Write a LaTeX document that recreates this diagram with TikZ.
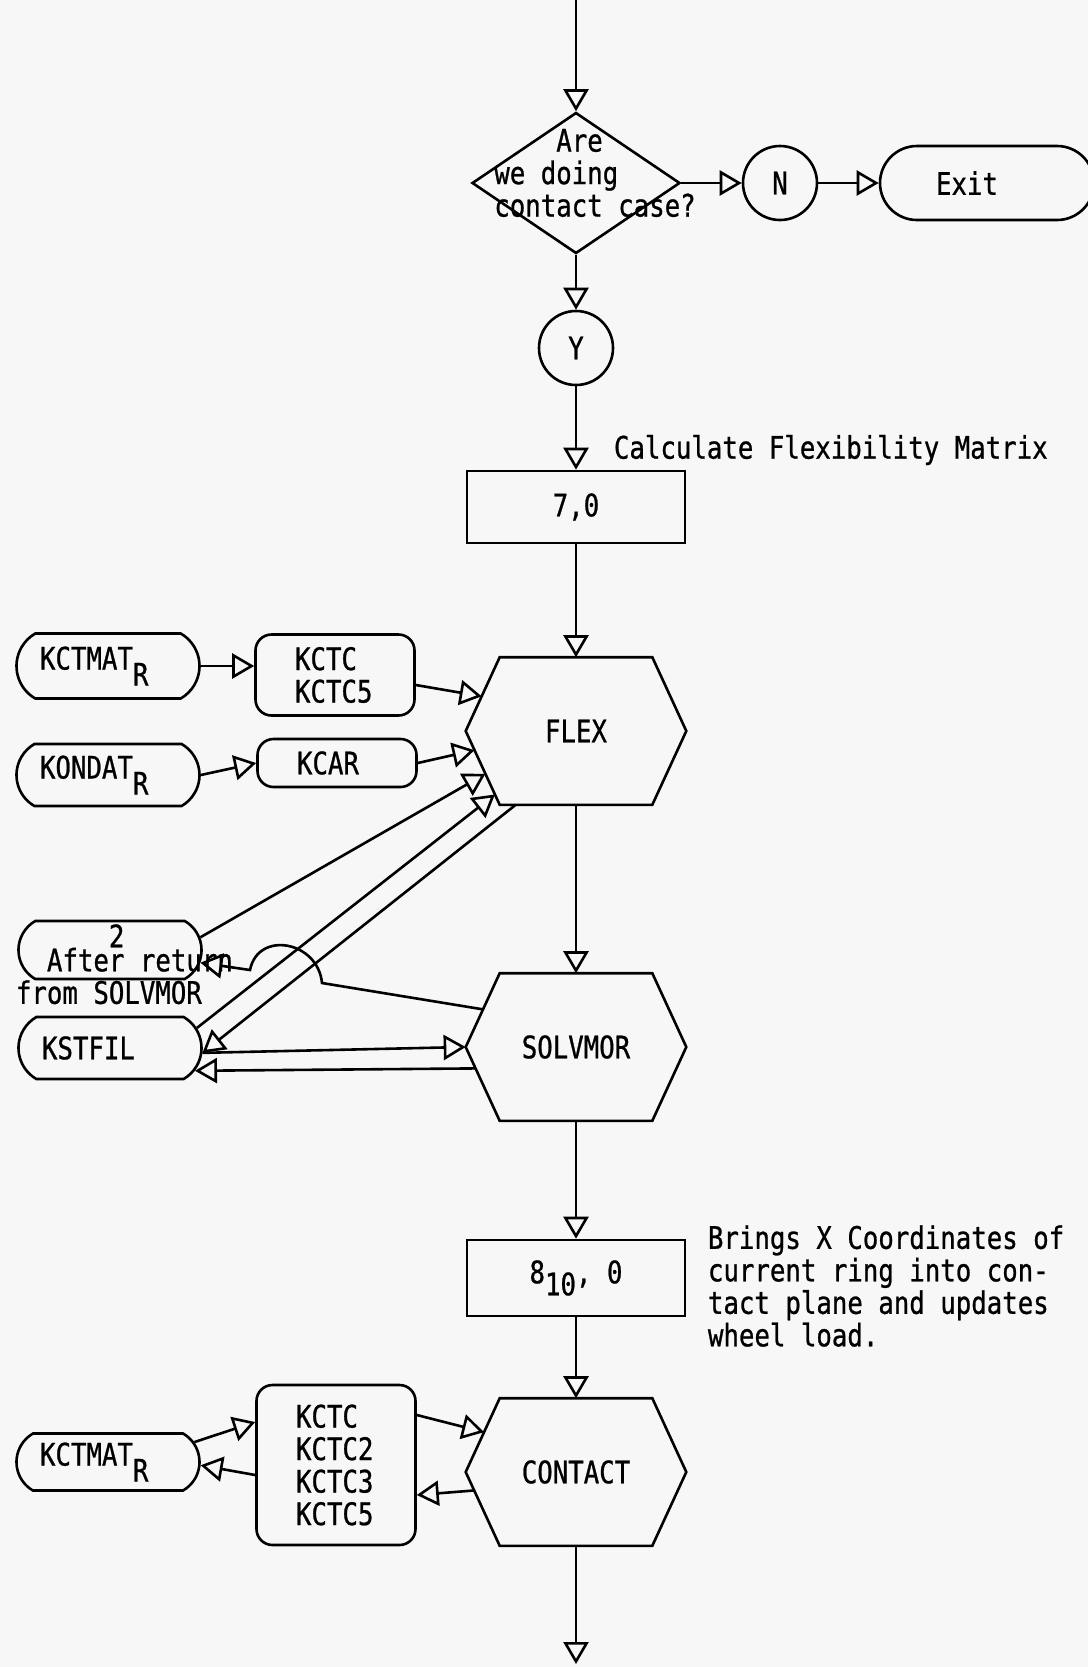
\documentclass[tikz,border=0pt]{standalone}
\usepackage{fontspec}
\setmainfont{DejaVu Sans Mono}[FakeStretch=0.83, FakeBold=0.8]
\usetikzlibrary{shapes.geometric,shapes.misc,arrows.meta,calc}

\begin{document}
\begin{tikzpicture}[x=0.5pt, y=-0.5pt, line width=1.3pt,
	>={Triangle[open,length=11pt,width=12.5pt]},
	every node/.append style={font=\fontsize{15.5}{16.25}\selectfont},
	decide/.style={draw, diamond, minimum width=104pt, minimum height=70.5pt, inner sep=0pt},
	answer/.style={draw, circle, minimum size=37pt, inner sep=0pt},
	term/.style={draw, rounded rectangle, rounded rectangle arc length=180, minimum width=107pt, minimum height=37pt, inner sep=0pt},
	disk/.style={draw, rounded rectangle, rounded rectangle arc length=120, minimum width=91.5pt, inner sep=0pt, text width=68pt, align=left},
	tape/.style={draw, rounded corners=8pt, minimum width=79.5pt, inner sep=0pt, text width=40pt, align=left},
	proc/.style={draw, rectangle, minimum width=109pt, inner sep=0pt},
	hexa/.style={rectangle, minimum width=109pt, minimum height=72.5pt, inner sep=0pt}]

	\fill[black!3] (0,0) rectangle (1088,1667);
	\useasboundingbox (0,0) rectangle (1088,1667);

	% main line
	\coordinate (top) at (576,0);
	\node[decide] (dia) at (576,183) {};
	\node[align=left] (diatxt) at (595,173) {\phantom{cont}Are\\we doing\\contact case?};
	\node[answer] (ncirc) at (780,183) {N};
	\node[term] (exit) at (987,183) {Exit\hspace*{20pt}};
	\node[answer] (ycirc) at (576,348) {Y};
	\node[anchor=west] (calc) at (606,450) {Calculate Flexibility Matrix};
	\node[proc, minimum height=36pt] (r70) at (576,507) {7,0};
	\node[hexa] (flex) at (576,731) {FLEX};
	\node[hexa] (solv) at (576,1047) {SOLVMOR};
	\node[proc, minimum height=38pt] (r810) at (576,1278) {8\raisebox{-6pt}{10}, 0};
	\node[anchor=west, align=left] (brings) at (700,1286) {Brings X Coordinates of\\current ring into con-\\tact plane and updates\\wheel load.};
	\node[hexa] (cont) at (576,1472) {CONTACT};
	\coordinate (bot) at (576,1664);

	\foreach \h in {flex,solv,cont}{
		\coordinate (\h-nw) at ([xshift=17pt]\h.north west);
		\coordinate (\h-ne) at ([xshift=-17pt]\h.north east);
		\coordinate (\h-se) at ([xshift=-17pt]\h.south east);
		\coordinate (\h-sw) at ([xshift=17pt]\h.south west);
		\draw (\h.west) -- (\h-nw) -- (\h-ne) -- (\h.east) -- (\h-se) -- (\h-sw) -- cycle;
	}

	% files on the left
	\node[disk, minimum height=32.5pt] (kctmat1) at (108,666) {KCTMAT\raisebox{-8pt}{R}};
	\node[tape, minimum height=40.5pt] (kctc1) at (335,675) {KCTC\\KCTC5};
	\node[disk, minimum height=31pt] (kondat) at (108,775) {KONDAT\raisebox{-8pt}{R}};
	\node[tape, minimum height=24pt] (kcar) at (337,763) {KCAR};
	\node[disk, minimum height=29pt] (after) at (110,950) {};
	\node[anchor=west, align=left] (aftertxt) at (8,976) {\phantom{fr}Afte\makebox[0pt][l]{\raisebox{12pt}[0pt][0pt]{2}}r return\\from SOLVMOR};
	\node[disk, minimum height=31pt] (kstfil) at (110,1048) {KSTFIL};
	\node[disk, minimum height=28.5pt] (kctmat2) at (108,1462) {KCTMAT\raisebox{-8pt}{R}};
	\node[tape, minimum height=80pt] (kctc2) at (336,1465) {KCTC\\KCTC2\\KCTC3\\KCTC5};

	\coordinate (hopR) at (322,983);
	\coordinate (hopL) at (250,970);

	\draw[->] (top) -- (dia.north);
	\draw[->] (dia.east) -- (ncirc.west);
	\draw[->] (ncirc.east) -- (exit.west);
	\draw[->] (dia.south) -- (ycirc.north);
	\draw[->] (ycirc.south) -- (r70.north);
	\draw[->] (r70.south) -- (flex.north);
	\draw[->] (flex.south) -- (solv.north);
	\draw[->] (solv.south) -- (r810.north);
	\draw[->] (r810.south) -- (cont.north);
	\draw[->] (cont.south) -- (bot);

	\draw[->] (kctmat1.east) -- (kctmat1.east -| kctc1.west);
	\draw[->] ([yshift=-5pt]kctc1.east) -- ($(flex.west)!.47!(flex-nw)$);
	\draw[->] (kondat.east) -- (kcar.west);
	\draw[->] (kcar.east) -- ($(flex.west)!.26!(flex-sw)$);
	\draw[->] (after.8) -- ($(flex.west)!.58!(flex-sw)$);
	\draw[->] (kstfil.13) -- ($(flex.west)!.86!(flex-sw)$);
	\draw[->] ([xshift=8pt]flex-sw) -- (kstfil.-3);
	\draw[->] (kstfil.-3) -- (solv.west);
	\draw[->] ($(solv.west)!.29!(solv-sw)$) -- (kstfil.-15);
	\draw[->] ($(solv.west)!.51!(solv-nw)$) -- (hopR) .. controls +(-4,-42) and +(8,-40) .. (hopL) -- (after.-8);

	\draw[->] (kctmat2.13) -- ([yshift=21.5pt]kctc2.west);
	\draw[->] ([yshift=-5pt]kctc2.west) -- (kctmat2.-2);
	\draw[->] ([yshift=25pt]kctc2.east) -- ($(cont.west)!.54!(cont-nw)$);
	\draw[->] ($(cont.west)!.25!(cont-sw)$) -- ([yshift=-15pt]kctc2.east);
\end{tikzpicture}
\end{document}
